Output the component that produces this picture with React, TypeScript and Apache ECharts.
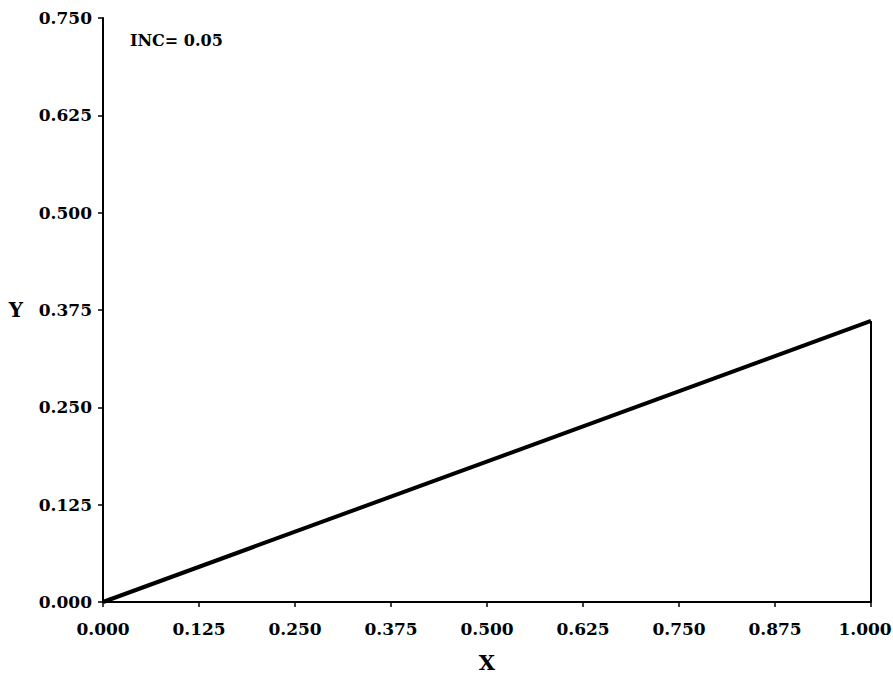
import React, { useEffect, useRef } from "react";
import * as echarts from "echarts";

const xTicks = [0, 0.125, 0.25, 0.375, 0.5, 0.625, 0.75, 0.875, 1.0];
const yTicks = [0, 0.125, 0.25, 0.375, 0.5, 0.625, 0.75];
const slopeX = [0, 1.0];
const slopeY = [0, 0.361];
const edgeX = [1.0, 1.0];
const edgeY = [0.361, 0];
const annotation = "INC= 0.05";

const FONT = "DejaVu Serif";

export default function App() {
  const ref = useRef<HTMLDivElement>(null);
  useEffect(() => {
    if (!ref.current) return;
    const chart = echarts.init(ref.current, null, { renderer: "svg" });
    chart.setOption({
      animation: false,
      backgroundColor: "#ffffff",
      grid: { left: 103, right: 22, top: 18, bottom: 74, containLabel: false, outerBoundsMode: "none" },
      xAxis: {
        type: "value",
        min: 0,
        max: 1,
        interval: 0.125,
        name: "X",
        nameLocation: "middle",
        nameGap: 50,
        nameTextStyle: { fontFamily: FONT, fontWeight: "bold", fontSize: 21, color: "#000" },
        axisLine: { show: true, onZero: false, lineStyle: { color: "#000", width: 2 } },
        axisTick: { show: true, length: 5, lineStyle: { color: "#000", width: 1.5 } },
        axisLabel: {
          fontFamily: FONT,
          fontWeight: "bold",
          fontSize: 17,
          color: "#000",
          margin: 18,
          formatter: (v: number) => (v === xTicks[xTicks.length - 1] ? "{r|" + v.toFixed(3) + "}" : v.toFixed(3)),
          rich: {
            r: { fontFamily: FONT, fontWeight: "bold", fontSize: 17, color: "#000", padding: [0, 12, 0, 0] },
          },
        },
        splitLine: { show: false },
      },
      yAxis: {
        type: "value",
        min: 0,
        max: 0.75,
        interval: 0.125,
        name: "Y",
        nameLocation: "middle",
        nameRotate: 0,
        nameGap: 80,
        nameTextStyle: { fontFamily: FONT, fontWeight: "bold", fontSize: 20, color: "#000" },
        axisLine: { show: true, onZero: false, lineStyle: { color: "#000", width: 2 } },
        axisTick: { show: true, length: 5, lineStyle: { color: "#000", width: 1.5 } },
        axisLabel: {
          fontFamily: FONT,
          fontWeight: "bold",
          fontSize: 17,
          color: "#000",
          margin: 11,
          formatter: (v: number) => v.toFixed(3),
        },
        splitLine: { show: false },
      },
      graphic: [
        {
          type: "text",
          left: 130,
          top: 32,
          style: {
            text: annotation,
            fontFamily: FONT,
            fontWeight: "bold",
            fontSize: 16,
            fill: "#000",
          },
        },
      ],
      series: [
        {
          type: "line",
          data: slopeX.map((x, i) => [x, slopeY[i]]),
          showSymbol: false,
          lineStyle: { color: "#000", width: 4 },
        },
        {
          type: "line",
          data: edgeX.map((x, i) => [x, edgeY[i]]),
          showSymbol: false,
          lineStyle: { color: "#000", width: 2 },
        },
      ],
    });
    return () => chart.dispose();
  }, []);
  return <div ref={ref} style={{ width: 893, height: 676, position: "absolute", left: 0, top: 0 }} />;
}
